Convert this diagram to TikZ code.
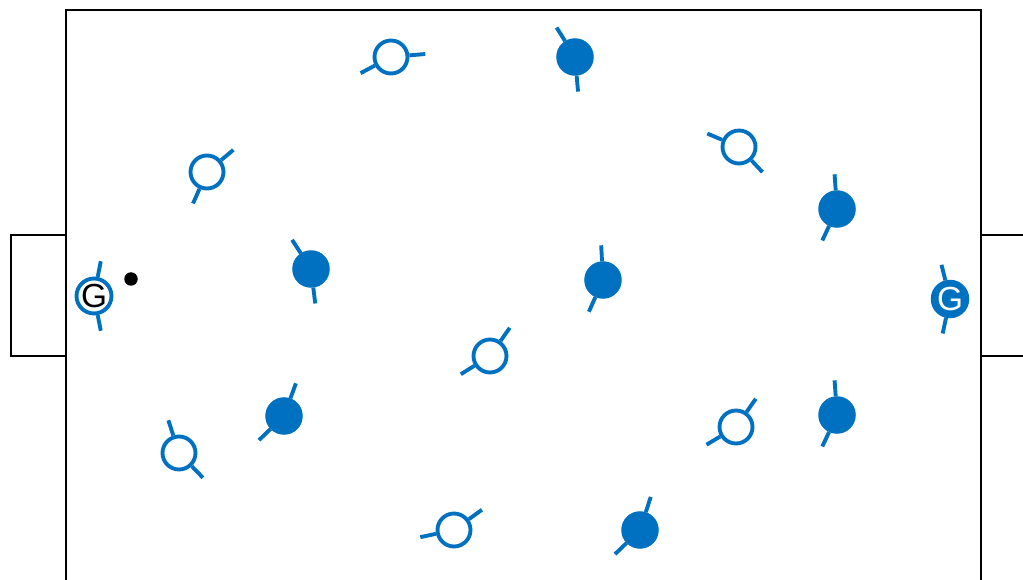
\documentclass[tikz,border=0pt]{standalone}
\usepackage{fontspec}
\setsansfont{Liberation Sans}
\usepackage{tikz}
\usetikzlibrary{positioning, calc}
\usepackage{xcolor}
\definecolor{PitchLine}{HTML}{000000}
\definecolor{TeamBlue}{HTML}{0070C0}
\definecolor{PitchWhite}{HTML}{FFFFFF}
\tikzset{
    % Pitch styles
    pitch/.style={
        draw=PitchLine,
        line width=1.5pt
    },
    % Player styles
    openplayer/.style={
        circle,
        draw=TeamBlue,
        fill=PitchWhite,
        line width=2.2pt,
        minimum size=0.66cm,
        inner sep=0pt
    },
    fullplayer/.style={
        circle,
        draw=TeamBlue,
        fill=TeamBlue,
        line width=2pt,
        minimum size=0.68cm,
        inner sep=0pt
    },
    keeper/.style={
        font=\sffamily\fontsize{19}{19}\selectfont
    },
    ball/.style={
        circle,
        fill=PitchLine,
        minimum size=0.27cm,
        inner sep=0pt
    },
    % Arm style
    stick/.style={
        draw=TeamBlue,
        line width=2.2pt
    }
}
\begin{document}
\begin{tikzpicture}[x=0.02cm, y=-0.02cm]
    \useasboundingbox (0,0) rectangle (1023,580);
    \clip (0,0) rectangle (1023,580);

    % pitch and goals
    \draw[pitch] (66,10) rectangle (981,620);
    \draw[pitch] (11,235) rectangle (66,356);
    \draw[pitch] (981,235) rectangle (1060,356);

    % outfield players: name/x/y/arm 1/arm 2/style
    \foreach \n/\x/\y/\a/\b/\t in {
        h1/391/57/208/5/openplayer,
        a1/575/57/122/275/fullplayer,
        h2/207/172/40/246/openplayer,
        h3/739/147/157/313/openplayer,
        a2/837/209/94/245/fullplayer,
        a3/311/269/123/277/fullplayer,
        a4/603/280/93/246/fullplayer,
        h4/490/356/55/212/openplayer,
        a5/284/416/70/224/fullplayer,
        h5/179/453/108/314/openplayer,
        h6/736/427/55/211/openplayer,
        a6/837/415/94/245/fullplayer,
        h7/454/530/192/36/openplayer,
        a7/640/530/72/224/fullplayer} {
        \node[\t] (\n) at (\x,\y) {};
        \draw[stick] (\n.\a) -- ++(\a:0.32cm);
        \draw[stick] (\n.\b) -- ++(\b:0.32cm);
    }

    % goalkeepers
    \node[openplayer, keeper, text=PitchLine] (gk1) at (94,296) {G};
    \draw[stick] (gk1.79) -- ++(79:0.32cm);
    \draw[stick] (gk1.281) -- ++(281:0.32cm);
    \node[fullplayer, keeper, text=PitchWhite] (gk2) at (950,299) {G};
    \draw[stick] (gk2.104) -- ++(104:0.32cm);
    \draw[stick] (gk2.258) -- ++(258:0.32cm);

    \node[ball] (b) at (131,279) {};
\end{tikzpicture}
\end{document}
